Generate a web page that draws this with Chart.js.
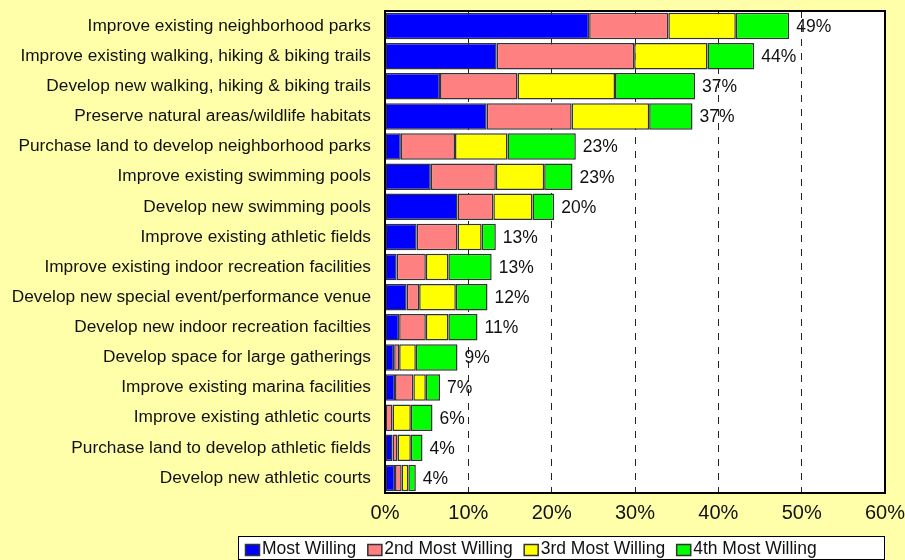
<!DOCTYPE html>
<html>
<head>
<meta charset="utf-8">
<script src="https://cdn.jsdelivr.net/npm/chart.js@4/dist/chart.umd.min.js"></script>
<style>
  html, body { margin: 0; padding: 0; background: #FFFFAA; }
  #wrap { width: 905px; height: 560px; }
</style>
</head>
<body>
<div id="wrap"><canvas id="chart" width="905" height="560"></canvas></div>
<script>
// categories (top to bottom)
const categories = [
    'Improve existing neighborhood parks',
    'Improve existing walking, hiking & biking trails',
    'Develop new walking, hiking & biking trails',
    'Preserve natural areas/wildlife habitats',
    'Purchase land to develop neighborhood parks',
    'Improve existing swimming pools',
    'Develop new swimming pools',
    'Improve existing athletic fields',
    'Improve existing indoor recreation facilities',
    'Develop new special event/performance venue',
    'Develop new indoor recreation facilties',
    'Develop space for large gatherings',
    'Improve existing marina facilities',
    'Improve existing athletic courts',
    'Purchase land to develop athletic fields',
    'Develop new athletic courts'
];

// percent values per series
const mostWilling   = [24.5, 13.4, 6.6, 12.2, 1.9, 5.5, 8.7, 3.8, 1.4, 2.6, 1.7, 1.1, 1.2, 0.0, 0.9, 1.2];
const secondWilling = [9.5, 16.5, 9.3, 10.2, 6.5, 7.8, 4.3, 4.9, 3.5, 1.5, 3.2, 0.6, 2.2, 0.9, 0.6, 0.8];
const thirdWilling  = [8.1, 8.8, 11.7, 9.3, 6.3, 5.8, 4.7, 2.9, 2.7, 4.4, 2.7, 2.0, 1.5, 2.2, 1.6, 0.8];
const fourthWilling = [6.4, 5.6, 9.6, 5.2, 8.2, 3.4, 2.6, 1.7, 5.2, 3.8, 3.5, 5.0, 1.7, 2.6, 1.4, 0.9];

// total labels shown at bar ends
const totalLabels = ['49%', '44%', '37%', '37%', '23%', '23%', '20%', '13%', '13%', '12%', '11%', '9%', '7%', '6%', '4%', '4%'];

const seriesNames = ['Most Willing', '2nd Most Willing', '3rd Most Willing', '4th Most Willing'];
const seriesColors = ['#0000FF', '#FF8080', '#FFFF00', '#00FF00'];

const FONT = 'Arial, "Liberation Sans", sans-serif';

// background + plot area
const bgPlugin = {
    id: 'bgPlugin',
    beforeDraw(chart) {
        const ctx = chart.ctx;
        const a = chart.chartArea;
        ctx.save();
        ctx.fillStyle = '#FFFFAA';
        ctx.fillRect(0, 0, chart.width, chart.height);
        ctx.fillStyle = '#FFFFFF';
        ctx.fillRect(a.left, a.top, a.right - a.left, a.bottom - a.top);
        ctx.restore();
    },
    afterDatasetsDraw(chart) {
        const ctx = chart.ctx;
        const a = chart.chartArea;
        ctx.save();
        ctx.strokeStyle = '#000';
        ctx.lineWidth = 2;
        ctx.strokeRect(a.left, a.top, a.right - a.left, a.bottom - a.top);
        ctx.restore();
    }
};

// totals at the end of each bar
const totalsPlugin = {
    id: 'totalsPlugin',
    afterDatasetsDraw(chart) {
        const ctx = chart.ctx;
        const x = chart.scales.x;
        const y = chart.scales.y;
        ctx.save();
        ctx.font = '17.5px ' + FONT;
        ctx.fillStyle = '#111';
        ctx.textBaseline = 'middle';
        ctx.textAlign = 'left';
        categories.forEach((c, i) => {
            const sum = mostWilling[i] + secondWilling[i] + thirdWilling[i] + fourthWilling[i];
            ctx.fillText(totalLabels[i], x.getPixelForValue(sum) + 7, y.getPixelForValue(i) + 1);
        });
        ctx.restore();
    }
};

// boxed legend under the axis
const legendBoxPlugin = {
    id: 'legendBoxPlugin',
    afterDraw(chart) {
        const ctx = chart.ctx;
        const left = 238, top = 536, right = 884, height = 23;
        ctx.save();
        ctx.fillStyle = '#FFFFFF';
        ctx.fillRect(left, top, right - left, height);
        ctx.strokeStyle = '#000';
        ctx.lineWidth = 1;
        ctx.strokeRect(left + 0.5, top + 0.5, right - left, height);
        ctx.font = '17.5px ' + FONT;
        ctx.textBaseline = 'middle';
        let cx = left + 7;
        chart.data.datasets.forEach(ds => {
            ctx.fillStyle = ds.backgroundColor;
            ctx.fillRect(cx, top + 8, 15, 12);
            ctx.strokeStyle = '#333';
            ctx.lineWidth = 1.5;
            ctx.strokeRect(cx + 0.5, top + 8.5, 14, 11);
            ctx.fillStyle = '#111';
            ctx.fillText(ds.label, cx + 17, top + height / 2 + 2);
            cx += 17 + ctx.measureText(ds.label).width + 11;
        });
        ctx.restore();
    }
};

const seriesData = [mostWilling, secondWilling, thirdWilling, fourthWilling];

new Chart(document.getElementById('chart').getContext('2d'), {
    type: 'bar',
    data: {
        labels: categories,
        datasets: seriesData.map((d, i) => ({
            label: seriesNames[i],
            data: d,
            backgroundColor: seriesColors[i],
            borderColor: '#333',
            borderWidth: 1.5,
            borderSkipped: false,
            barPercentage: 0.88,
            categoryPercentage: 1
        }))
    },
    options: {
        indexAxis: 'y',
        responsive: false,
        animation: false,
        layout: { padding: { left: 0, right: 20, top: 11, bottom: 25 } },
        plugins: {
            legend: { display: false },
            tooltip: { enabled: false }
        },
        scales: {
            x: {
                stacked: true,
                min: 0,
                max: 60,
                ticks: {
                    stepSize: 10,
                    callback: v => v + '%',
                    font: { size: 20, family: FONT },
                    color: '#111',
                    padding: 8,
                    maxRotation: 0
                },
                grid: {
                    color: '#222',
                    lineWidth: 1,
                    drawTicks: false
                },
                border: { display: false, dash: [7, 7] },
                afterFit: axis => {
                    axis.height = 42;
                    axis.paddingLeft = 0;
                    axis.paddingRight = 0;
                }
            },
            y: {
                stacked: true,
                ticks: {
                    font: { size: 17.3, family: FONT },
                    color: '#111',
                    padding: 14,
                    autoSkip: false
                },
                grid: { display: false, drawTicks: false },
                border: { display: false },
                afterFit: axis => {
                    axis.width = 385;
                    axis.paddingTop = 0;
                    axis.paddingBottom = 0;
                }
            }
        }
    },
    plugins: [bgPlugin, totalsPlugin, legendBoxPlugin]
});
</script>
</body>
</html>
